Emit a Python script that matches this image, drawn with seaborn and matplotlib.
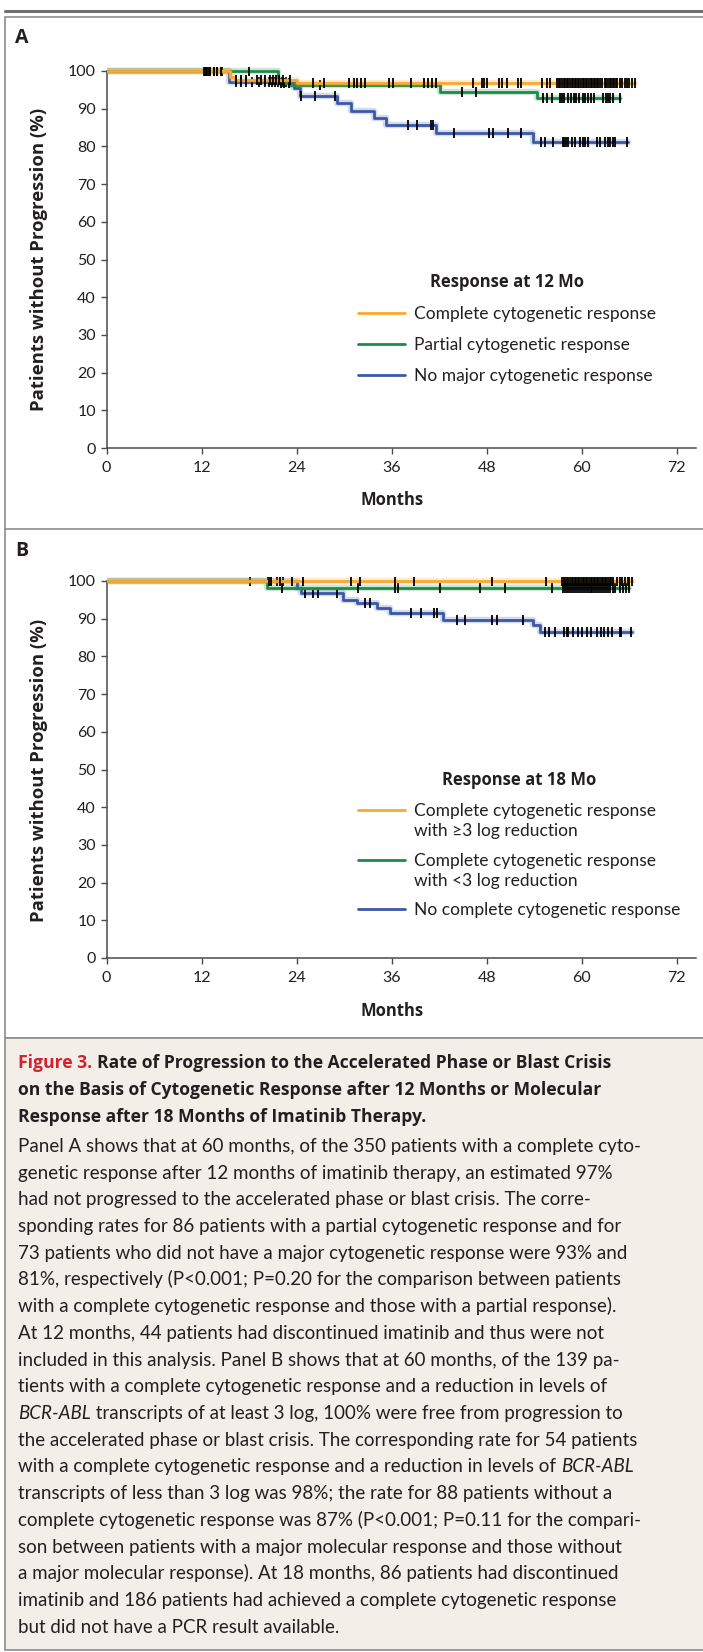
import numpy as np
import pandas as pd
import matplotlib
matplotlib.use("Agg")
import matplotlib.pyplot as plt
import seaborn as sns
from matplotlib.lines import Line2D
from matplotlib.patches import Rectangle
from matplotlib.font_manager import FontProperties
from matplotlib.legend_handler import HandlerLine2D

# ---------------- data ----------------
x_ticks = [0, 12, 24, 36, 48, 60, 72]
y_ticks = [0, 10, 20, 30, 40, 50, 60, 70, 80, 90, 100]
y_label = "Patients without Progression (%)"
x_label = "Months"

# Panel A : response at 12 months
a_title = "Response at 12 Mo"
a_labels = ["Complete cytogenetic response",
            "Partial cytogenetic response",
            "No major cytogenetic response"]
a_ccyr_t = [0, 15.6, 16.2, 24.0, 66.7]
a_ccyr_s = [100, 98.3, 97.5, 96.8, 96.8]
a_pcyr_t = [0, 21.6, 23.2, 42.1, 54.3, 64.8]
a_pcyr_s = [100, 96.8, 96.2, 94.5, 92.8, 92.8]
a_none_t = [0, 15.4, 23.6, 24.4, 29.1, 30.9, 33.7, 35.3, 41.6, 53.8, 65.8]
a_none_s = [100, 97.1, 95.5, 93.3, 91.5, 89.4, 87.6, 85.6, 83.6, 81.2, 81.2]
a_ccyr_cens = [12.3, 12.5, 12.7, 12.9, 13.1, 13.5, 13.9, 14.4, 16.4, 17.0, 17.6,
               19.0, 19.5, 20.0, 20.6, 21.0, 21.4, 21.8, 22.3, 23.2, 26.0, 27.5,
               30.6, 31.2, 31.6, 32.1, 32.6, 35.6, 36.2, 38.4, 40.1, 40.6, 41.1,
               41.6, 46.3, 47.4, 47.7, 48.0, 49.5, 49.9, 50.6, 51.9, 52.3, 55.0,
               55.6, 56.0, 56.9, 57.1, 57.3, 57.5, 57.7, 57.9, 58.1, 58.3, 58.5,
               58.7, 58.9, 59.1, 59.3, 59.5, 59.7, 59.9, 60.1, 60.3, 60.5, 60.7,
               60.9, 61.1, 61.3, 61.5, 61.7, 61.9, 62.1, 62.3, 62.5, 62.9, 63.1,
               63.3, 63.5, 63.7, 63.9, 64.1, 64.3, 64.5, 64.8, 65.1, 65.4, 65.7,
               66.0, 66.3, 66.7]
a_pcyr_cens = [18.0, 22.0, 22.4, 23.0, 27.0, 44.9, 46.6, 55.1, 55.6, 56.2, 57.2,
               57.5, 57.8, 58.2, 58.6, 59.0, 59.3, 59.7, 60.1, 60.4, 60.8, 61.2,
               61.6, 62.7, 63.0, 63.3, 63.6, 64.0, 64.8]
a_none_cens = [12.4, 12.6, 13.0, 13.5, 14.0, 14.6, 16.3, 17.0, 17.6, 18.4, 19.3,
               20.0, 20.5, 20.9, 21.3, 21.7, 22.1, 22.6, 24.6, 26.3, 28.9, 38.1,
               39.2, 40.9, 41.2, 43.9, 48.3, 48.8, 50.7, 52.3, 54.9, 55.3, 56.4,
               57.6, 57.8, 58.0, 58.3, 58.7, 59.1, 59.8, 60.1, 60.4, 60.8, 61.9,
               62.3, 62.9, 63.3, 63.6, 63.9, 64.2, 65.7]

# Panel B : response at 18 months
b_title = "Response at 18 Mo"
b_labels = ["Complete cytogenetic response\nwith \u22653 log reduction",
            "Complete cytogenetic response\nwith <3 log reduction",
            "No complete cytogenetic response"]
b_hi_t = [0, 66.3]
b_hi_s = [100, 100]
b_lo_t = [0, 20.2, 65.9]
b_lo_s = [100, 98.1, 98.1]
b_none_t = [0, 24.0, 24.6, 29.9, 31.6, 34.1, 35.8, 42.5, 53.9, 54.7, 66.3]
b_none_s = [100, 98.1, 96.7, 95.0, 94.1, 92.8, 91.4, 89.7, 88.3, 86.6, 86.6]
b_hi_cens = [20.5, 20.8, 21.9, 23.4, 24.8, 30.9, 32.0, 36.4, 38.8, 48.6, 55.5,
             57.5, 57.7, 57.9, 58.1, 58.3, 58.5, 58.7, 58.9, 59.1, 59.3, 59.5,
             59.7, 59.9, 60.1, 60.3, 60.5, 60.7, 60.9, 61.1, 61.3, 61.5, 61.7,
             61.9, 62.1, 62.3, 62.5, 62.7, 62.9, 63.1, 63.3, 63.5, 63.7, 64.0,
             64.4, 64.8, 65.1, 65.5, 65.8, 66.0, 66.3]
b_lo_cens = [22.1, 31.8, 36.4, 36.8, 42.1, 47.1, 50.3, 56.2, 57.6, 57.85, 58.1,
             58.35, 58.6, 58.85, 59.1, 59.35, 59.6, 59.85, 60.1, 60.35, 60.6,
             60.85, 61.1, 61.35, 61.6, 61.85, 62.1, 62.35, 62.6, 62.85, 63.1,
             63.35, 63.6, 63.9, 64.2, 64.8, 65.2, 65.6, 65.9]
b_none_cens = [18.1, 20.4, 20.8, 21.5, 22.3, 25.1, 26.1, 26.7, 29.1, 32.6, 33.3,
               38.4, 39.7, 41.3, 41.7, 44.2, 45.3, 48.6, 49.3, 52.6, 55.4, 55.8,
               56.6, 57.8, 58.1, 58.3, 58.9, 59.5, 60.0, 60.6, 61.2, 61.9, 62.4,
               62.8, 63.3, 63.8, 64.8, 65.0, 66.2]

series_colors = ["#F9A92F", "#1F8A46", "#3B58A8"]

caption_title = ["Rate of Progression to the Accelerated Phase or Blast Crisis",
                 "on the Basis of Cytogenetic Response after 12 Months or Molecular",
                 "Response after 18 Months of Imatinib Therapy."]
caption_body = [
    [("Panel A shows that at 60 months, of the 350 patients with a complete cyto-", "normal")],
    [("genetic response after 12 months of imatinib therapy, an estimated 97%", "normal")],
    [("had not progressed to the accelerated phase or blast crisis. The corre-", "normal")],
    [("sponding rates for 86 patients with a partial cytogenetic response and for", "normal")],
    [("73 patients who did not have a major cytogenetic response were 93% and", "normal")],
    [("81%, respectively (P<0.001; P=0.20 for the comparison between patients", "normal")],
    [("with a complete cytogenetic response and those with a partial response).", "normal")],
    [("At 12 months, 44 patients had discontinued imatinib and thus were not", "normal")],
    [("included in this analysis. Panel B shows that at 60 months, of the 139 pa-", "normal")],
    [("tients with a complete cytogenetic response and a reduction in levels of", "normal")],
    [("BCR-ABL", "italic"), (" transcripts of at least 3 log, 100% were free from progression to", "normal")],
    [("the accelerated phase or blast crisis. The corresponding rate for 54 patients", "normal")],
    [("with a complete cytogenetic response and a reduction in levels of ", "normal"), ("BCR-ABL", "italic")],
    [("transcripts of less than 3 log was 98%; the rate for 88 patients without a", "normal")],
    [("complete cytogenetic response was 87% (P<0.001; P=0.11 for the compari-", "normal")],
    [("son between patients with a major molecular response and those without", "normal")],
    [("a major molecular response). At 18 months, 86 patients had discontinued", "normal")],
    [("imatinib and 186 patients had achieved a complete cytogenetic response", "normal")],
    [("but did not have a PCR result available.", "normal")],
]

# ---------------- style ----------------
sns.set_style("ticks")
FONT = ["Lato", "DejaVu Sans"]
BOLDFONT = ["Open Sans", "DejaVu Sans"]
plt.rcParams["font.family"] = FONT
TXT = "#231f20"
AX = "#4a4a4a"

W, H = 703, 1652
fig = plt.figure(figsize=(W / 100, H / 100), dpi=100)
fig.patch.set_facecolor("white")


def fx(x):
    return x / W


def fy(y):
    return 1 - y / H


# frames
fig.add_artist(Line2D([fx(5), 1], [fy(11), fy(11)], lw=2.2, color="#6f6f6f"))
fig.add_artist(Rectangle((fx(5), fy(1038)), 1.0, fy(17) - fy(1038), fill=False,
                         lw=1.2, edgecolor="#8c8c8c"))
fig.add_artist(Line2D([fx(5), 1], [fy(529), fy(529)], lw=1.2, color="#8c8c8c"))
fig.add_artist(Rectangle((fx(5), fy(1650)), 1.0, fy(1038) - fy(1650), fill=True,
                         facecolor="#f3efe8", lw=1.2, edgecolor="#8c8c8c"))

PX_PER_MONTH = 7.92
X0 = 106.6
XMAX = 74.4
PX_PER_PCT = 3.77


def make_axes(y_zero):
    height = 101 * PX_PER_PCT
    ax = fig.add_axes([fx(X0), fy(y_zero), XMAX * PX_PER_MONTH / W, height / H])
    return ax


def km(ax, times, surv, color, label, cens, z):
    df = pd.DataFrame({"month": times, "pct": surv})
    sns.lineplot(data=df, x="month", y="pct", ax=ax, color=color, lw=4.6,
                 alpha=0.22, drawstyle="steps-post", estimator=None, sort=False,
                 legend=False, zorder=z)
    sns.lineplot(data=df, x="month", y="pct", ax=ax, color=color, lw=2.0,
                 drawstyle="steps-post", estimator=None, sort=False,
                 label=label, zorder=z + 0.5)
    idx = np.searchsorted(np.asarray(times), np.asarray(cens), side="right") - 1
    cy = np.asarray(surv)[idx]
    sns.scatterplot(x=cens, y=cy, ax=ax, marker="|", s=50, color="black",
                    linewidth=1.3, zorder=z + 0.7, legend=False)


def style_axes(ax):
    ax.set_xlim(0, XMAX)
    ax.set_ylim(0, 101)
    ax.set_xticks(x_ticks)
    ax.set_yticks(y_ticks)
    ax.set_xlabel("")
    ax.set_ylabel("")
    for s in ["top", "right"]:
        ax.spines[s].set_visible(False)
    ax.spines["left"].set_bounds(0, 100)
    for s in ["left", "bottom"]:
        ax.spines[s].set_color(AX)
        ax.spines[s].set_linewidth(1.1)
    ax.tick_params(direction="out", length=4.6, width=1.0, color=AX,
                   labelsize=11.5, labelcolor=TXT)
    ax.tick_params(axis="x", pad=5)
    ax.tick_params(axis="y", pad=3)
    ax.patch.set_alpha(0)


class ShiftHandler(HandlerLine2D):
    def __init__(self, dy, **kw):
        super().__init__(**kw)
        self.dy = dy

    def create_artists(self, legend, orig_handle, xdescent, ydescent, width,
                       height, fontsize, trans):
        arts = super().create_artists(legend, orig_handle, xdescent, ydescent,
                                      width, height, fontsize, trans)
        for a in arts:
            a.set_ydata(np.asarray(a.get_ydata(), dtype=float) + self.dy)
        return arts


def add_legend(ax, labels, title, anchor, spacing):
    lines = [l for l in ax.get_lines() if not l.get_label().startswith("_")]
    bylab = {l.get_label(): l for l in lines}
    handles = [bylab[l] for l in labels]
    hmap = {}
    for h, lab in zip(handles, labels):
        if "\n" in lab:
            hmap[h] = ShiftHandler(8.3)
    leg = ax.legend(handles, labels, title=title, loc="upper left",
                    bbox_to_anchor=(fx(anchor[0]), fy(anchor[1])),
                    bbox_transform=fig.transFigure, frameon=False,
                    prop=FontProperties(family=FONT, size=12.5),
                    handlelength=2.7, handletextpad=0.55,
                    labelspacing=spacing, borderpad=0, borderaxespad=0,
                    handler_map=hmap,
                    title_fontproperties=FontProperties(family=BOLDFONT,
                                                        weight="bold", size=12))
    for t in leg.get_texts():
        t.set_color(TXT)
        t.set_linespacing(1.3)
    leg.get_title().set_color(TXT)
    for h in leg.legend_handles:
        h.set_linewidth(2.0)
    return leg


# ---------------- panel A ----------------
axA = make_axes(448)
km(axA, a_none_t, a_none_s, series_colors[2], a_labels[2], a_none_cens, 2)
km(axA, a_pcyr_t, a_pcyr_s, series_colors[1], a_labels[1], a_pcyr_cens, 3)
km(axA, a_ccyr_t, a_ccyr_s, series_colors[0], a_labels[0], a_ccyr_cens, 4)
style_axes(axA)
add_legend(axA, a_labels, a_title, (358, 273), 0.87)

# ---------------- panel B ----------------
axB = make_axes(958)
km(axB, b_none_t, b_none_s, series_colors[2], b_labels[2], b_none_cens, 2)
km(axB, b_lo_t, b_lo_s, series_colors[1], b_labels[1], b_lo_cens, 3)
km(axB, b_hi_t, b_hi_s, series_colors[0], b_labels[0], b_hi_cens, 4)
style_axes(axB)
add_legend(axB, b_labels, b_title, (358, 771), 0.8)

# labels
for lab, yc in [("A", 38), ("B", 551)]:
    fig.text(fx(15), fy(yc), lab, fontsize=14, fontweight="bold", color=TXT,
             family=BOLDFONT, ha="left", va="center")
for yc in [259, 770]:
    fig.text(fx(39), fy(yc), y_label, rotation=90, fontsize=13.3,
             fontweight="bold", family=BOLDFONT, color=TXT,
             ha="center", va="center")
for yc in [500, 1011]:
    fig.text(fx(X0 + 36 * PX_PER_MONTH), fy(yc), x_label, fontsize=12,
             fontweight="bold", family=BOLDFONT, color=TXT,
             ha="center", va="center")

# ---------------- caption ----------------
renderer = fig.canvas.get_renderer()


def adv(s, fp):
    w1, _, _ = renderer.get_text_width_height_descent("|" + s + "|", fp, ismath=False)
    w0, _, _ = renderer.get_text_width_height_descent("||", fp, ismath=False)
    return w1 - w0


def draw_parts(x, y_base, parts, size):
    for txt, kind in parts:
        if kind in ("bold", "red"):
            fp = FontProperties(family=BOLDFONT, weight="bold", size=size - 0.85)
        elif kind == "italic":
            fp = FontProperties(family=FONT, style="italic", size=size)
        else:
            fp = FontProperties(family=FONT, size=size)
        col = "#d4202f" if kind == "red" else TXT
        fig.text(fx(x), fy(y_base), txt, fontproperties=fp, color=col,
                 ha="left", va="baseline")
        x += adv(txt, fp)


CAP_SIZE = 13.5
title_y = [1063, 1090, 1117]
for i, line in enumerate(caption_title):
    parts = [("Figure 3. ", "red"), (line, "bold")] if i == 0 else [(line, "bold")]
    draw_parts(18, title_y[i] + 5, parts, CAP_SIZE)
for i, parts in enumerate(caption_body):
    draw_parts(18, 1147 + 26.7 * i + 5, parts, CAP_SIZE)

fig.savefig("out.png", dpi=100)
